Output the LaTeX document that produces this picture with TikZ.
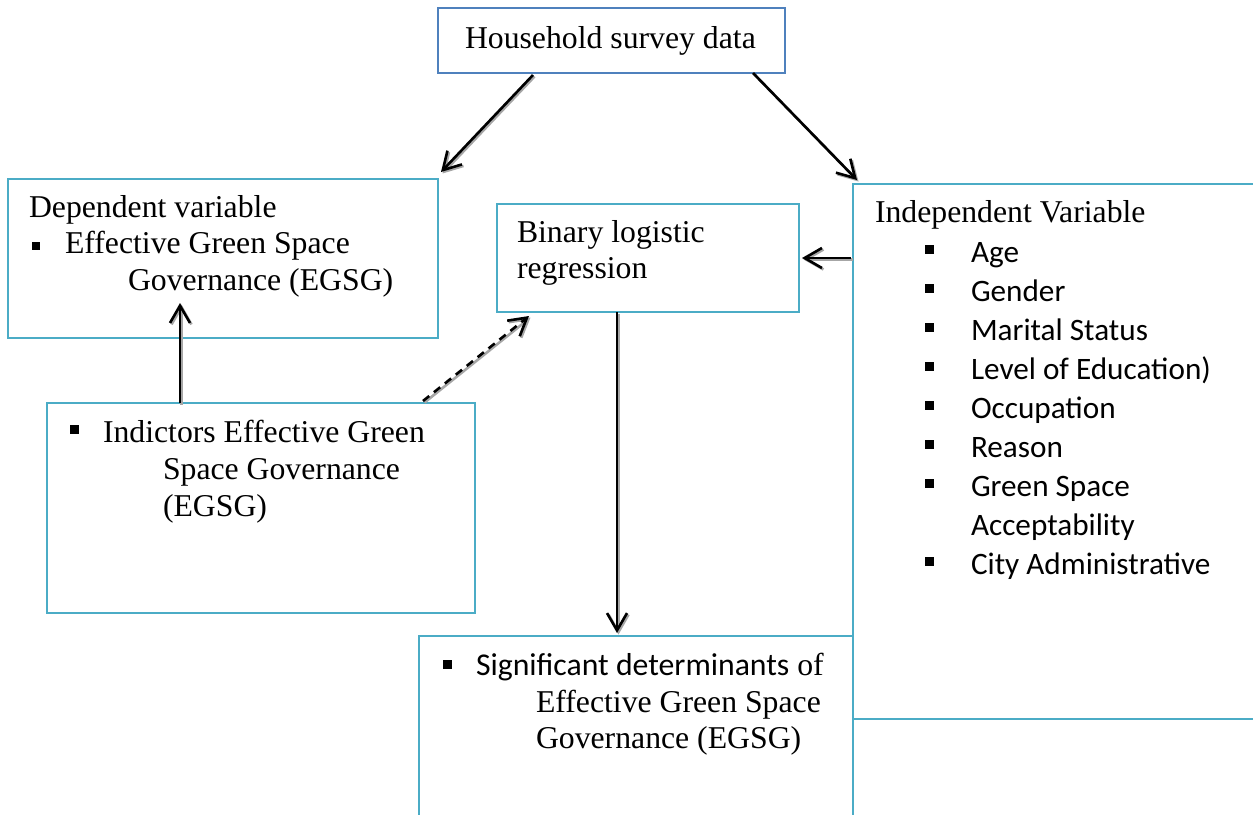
\documentclass[tikz,border=0pt]{standalone}
\usepackage{fontspec}
\setmainfont{Liberation Serif}
\newfontfamily\calfont{Carlito}
\usetikzlibrary{arrows.meta,calc}
\newlength\pxu
\setlength\pxu{0.75pt}
\newcommand\sqb[3]{\makebox[#1\pxu][l]{\rule[#2\pxu]{#3\pxu}{#3\pxu}}}
\definecolor{hhblue}{RGB}{79,129,189}
\definecolor{boxblue}{RGB}{75,172,198}
\begin{document}
\begin{tikzpicture}[x=0.75pt,y=-0.75pt,
  box/.style 2 args={rectangle,draw=boxblue,line width=1.5\pxu,inner sep=0pt,outer sep=0pt,minimum width=#1\pxu,minimum height=#2\pxu},
  txt/.style={anchor=base west,inner sep=0pt,outer sep=0pt,font=\fontsize{23.8pt}{27pt}\selectfont},
  ctxt/.style={txt,font=\fontsize{23.4pt}{28pt}\selectfont\calfont},
  arr/.style={line width=2.6\pxu,-{Straight Barb[length=13pt,width=15pt]},
    preaction={draw=black!35,line width=2.6\pxu,transform canvas={shift={(1.5\pxu,-1.5\pxu)}}}},
  darr/.style={arr,dash pattern=on 8\pxu off 6\pxu}]
\useasboundingbox (0,0) rectangle (1253,814);
\clip (0,0) rectangle (1253,814);
\fill[white] (0,0) rectangle (1253,814);

% boxes
\node[box={347}{65},draw=hhblue] (hh) at (611.5,40.5) {};
\node[box={430}{159}] (dep) at (223,258.5) {};
\node[box={302}{108}] (bin) at (648,258) {};
\node[box={447}{535}] (ind) at (1076.5,451.5) {};
\node[box={428}{210}] (indic) at (261,508) {};
\node[box={434}{234}] (sig) at (636,753) {};

% texts
\node[txt] (hht) at (465,48) {Household survey data};

\node[txt] (dep1) at (29,217) {Dependent variable};
\node[txt] (dep2) at (32,253) {\sqb{33}{3}{8}Effective Green Space};
\node[txt] (dep3) at (128,290) {Governance (EGSG)};

\node[txt] (bin1) at (517,242) {Binary logistic};
\node[txt] (bin2) at (517,278) {regression};

\node[txt] (ind0) at (875,222) {Independent Variable};
\node[ctxt] (ind1) at (925,262) {\sqb{46}{8}{9}Age};
\node[ctxt] (ind2) at (925,301) {\sqb{46}{8}{9}Gender};
\node[ctxt] (ind3) at (925,340) {\sqb{46}{8}{9}Marital Status};
\node[ctxt] (ind4) at (925,379) {\sqb{46}{8}{9}Level of Education)};
\node[ctxt] (ind5) at (925,418) {\sqb{46}{8}{9}Occupation};
\node[ctxt] (ind6) at (925,457) {\sqb{46}{8}{9}Reason};
\node[ctxt] (ind7) at (925,496) {\sqb{46}{8}{9}Green Space};
\node[ctxt] (ind8) at (971,535) {Acceptability};
\node[ctxt] (ind9) at (925,574) {\sqb{46}{8}{9}City Administrative};

\node[txt] (ic1) at (70,442) {\sqb{33}{8}{9}Indictors Effective Green};
\node[txt] (ic2) at (163,479) {Space Governance};
\node[txt] (ic3) at (163,516) {(EGSG)};

\node[txt] (sg1) at (443,675) {\sqb{33}{6}{9}{\calfont Significant determinants} of};
\node[txt] (sg2) at (536,712) {Effective Green Space};
\node[txt] (sg3) at (536,748) {Governance (EGSG)};

% connectors
\draw[arr] ($(hh.south west)+(95,2)$) -- ($(dep.north east)+(3,-7)$);
\draw[arr] ($(hh.south east)+(-32,0)$) -- ($(ind.north west)+(4,-4)$);
\draw[arr] ($(ind.west |- bin.east)+(-2,0)$) -- ($(bin.east)+(3,0)$);
\draw[arr] ($(bin.south)+(-31,0)$) -- ($(sig.north)+(-19,-3)$);
\draw[arr] ($(indic.north west)+(133,0)$) -- ($(dep.south west)+(172,-35)$);
\draw[darr] ($(indic.north east)+(-52,-2)$) -- ($(bin.south west)+(32,4)$);
\end{tikzpicture}
\end{document}
